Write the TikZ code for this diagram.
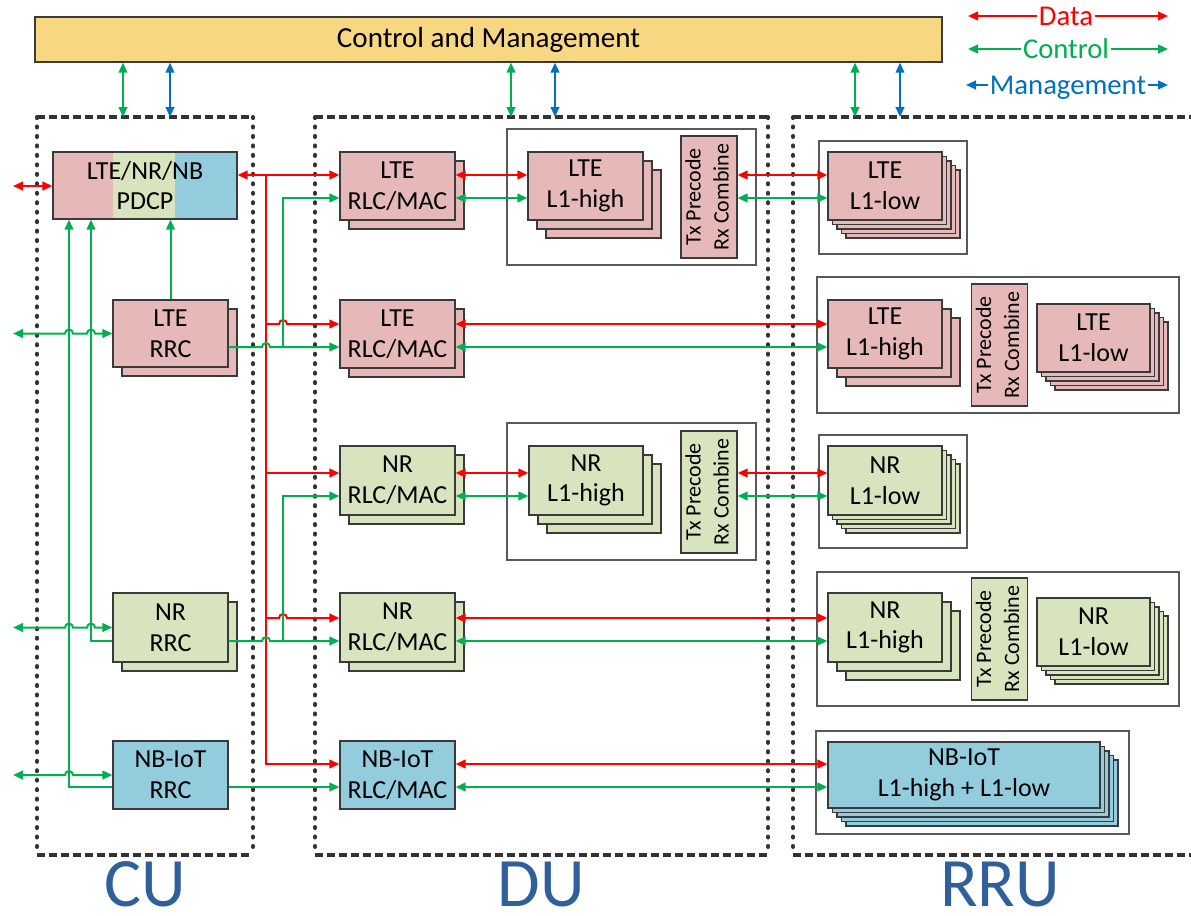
\documentclass[tikz,border=0pt]{standalone}
\usepackage{fontspec}
\usepackage{graphicx}
\setmainfont{Carlito}
\usetikzlibrary{arrows.meta,calc}

\definecolor{pinkc}{HTML}{E6B9B8}
\definecolor{greenc}{HTML}{D7E4BD}
\definecolor{bluec}{HTML}{93CDDD}
\definecolor{barc}{HTML}{F8D782}
\definecolor{datac}{HTML}{FF0000}
\definecolor{ctlc}{HTML}{00B050}
\definecolor{mgmtc}{HTML}{0070C0}
\definecolor{unitc}{HTML}{30609A}
\definecolor{edgec}{HTML}{3A3A3A}

\tikzset{
  blk/.style={draw=edgec, line width=0.9pt, inner sep=0pt, align=center,
    font=\fontsize{19.5}{23}\selectfont},
  layer/.style={draw=edgec, line width=0.9pt},
  frame/.style={draw=black!65, line width=0.9pt},
  data/.style={draw=datac, line width=1.5pt},
  ctl/.style={draw=ctlc, line width=1.5pt},
  mgmt/.style={draw=mgmtc, line width=1.5pt},
  hdash/.style={draw=black!80, line width=3pt, dash pattern=on 6pt off 3pt},
  vdash/.style={draw=black!80, line width=3pt, line cap=round, dash pattern=on 0.8pt off 6.3pt},
  unit/.style={text=unitc, font=\fontsize{52}{58}\selectfont, inner sep=0pt},
  legtxt/.style={font=\fontsize{21.5}{25}\selectfont, inner sep=1pt, text height=13.5pt, text depth=0pt},
  txbox/.style={blk, minimum width=42pt, minimum height=91.5pt},
}

% stacked block: name, fill, left, top, width, height, extra layers, step, text
\newcommand\deck[9]{%
  \foreach \k in {#7,...,1}{%
    \draw[layer,fill=#2] ({#3+\k*#8},{#4+\k*#8}) rectangle ++(#5,#6);}
  \node[blk,fill=#2,minimum width={#5*0.75pt},minimum height={#6*0.75pt}]
    (#1) at ({#3+#5/2},{#4+#6/2}) {#9};
}
\newcommand\txlabel{\rotatebox{90}{\fontsize{16.5}{21}\selectfont
  \begin{tabular}{@{}c@{}}Tx Precode\\Rx Combine\end{tabular}}}

\begin{document}
\begin{tikzpicture}[x=0.75pt, y=-0.75pt, >={Triangle[length=7.5pt,width=6.5pt]}]
\useasboundingbox (0,0) rectangle (1191,915);
\fill[white] (0,0) rectangle (1191,915);

% ---------- unit frames ----------
\draw[hdash] (37,117) -- (253,117) (37,855) -- (253,855);
\draw[vdash] (37,117) -- (37,855) (253,117) -- (253,855);
\draw[hdash] (315,117) -- (768,117) (315,855) -- (768,855);
\draw[vdash] (315,117) -- (315,855) (768,117) -- (768,855);
\draw[hdash] (793,117) -- (1191,117) (793,855) -- (1191,855);
\draw[vdash] (793,117) -- (793,855);

\node[unit] (cu) at (145,884) {CU};
\node[unit] (du) at (541,884) {DU};
\node[unit] (rru) at (1000,884) {RRU};

% ---------- control and management bar ----------
\node[draw=edgec, line width=1pt, fill=barc, minimum width=680.25pt, minimum height=33.75pt,
  inner sep=0pt, font=\fontsize{21.8}{25}\selectfont] (bar) at (488.5,39.5) {Control and Management};

\coordinate (cuA) at (123,117); \coordinate (cuB) at (170,117);
\coordinate (duA) at (511,117); \coordinate (duB) at (555,117);
\coordinate (ruA) at (855,117); \coordinate (ruB) at (900,117);
\draw[ctl,<->] (bar.south -| cuA) -- (cuA);
\draw[mgmt,<->] (bar.south -| cuB) -- (cuB);
\draw[ctl,<->] (bar.south -| duA) -- (duA);
\draw[mgmt,<->] (bar.south -| duB) -- (duB);
\draw[ctl,<->] (bar.south -| ruA) -- (ruA);
\draw[mgmt,<->] (bar.south -| ruB) -- (ruB);

% ---------- legend ----------
\node[legtxt,text=datac] (ldata) at (1066,16) {Data};
\node[legtxt,text=ctlc] (lctl) at (1066,49) {Control};
\node[legtxt,text=mgmtc] (lmgmt) at (1068,85) {Management};
\coordinate (lda) at (968,16); \coordinate (ldb) at (1168,16);
\coordinate (lca) at (968,49); \coordinate (lcb) at (1168,49);
\coordinate (lma) at (966,85); \coordinate (lmb) at (1168,85);
\draw[data,->] (ldata.west) -- (lda);
\draw[data,->] (ldata.east) -- (ldb);
\draw[ctl,->] (lctl.west) -- (lca);
\draw[ctl,->] (lctl.east) -- (lcb);
\draw[mgmt,->] (lmgmt.west) -- (lma);
\draw[mgmt,->] (lmgmt.east) -- (lmb);

% ---------- CU ----------
\fill[pinkc] (53,152) rectangle (113,219);
\fill[greenc] (113,152) rectangle (175,219);
\fill[bluec] (175,152) rectangle (237,219);
\node[blk, minimum width=138pt, minimum height=50.25pt] (pdcp) at (145,185.5) {LTE/NR/NB\\PDCP};

\deck{lterrc}{pinkc}{113}{300}{115}{67}{1}{9}{LTE\\RRC}
\deck{nrrrc}{greenc}{113}{593}{115}{69}{1}{9}{NR\\RRC}
\node[blk, fill=bluec, minimum width=86.25pt, minimum height=51pt] (nbrrc) at (170.5,775) {NB-IoT\\RRC};

% ---------- DU ----------
\deck{lterlc1}{pinkc}{340}{152}{115}{68}{1}{9}{LTE\\RLC/MAC}
\deck{lterlc2}{pinkc}{340}{300}{115}{68}{1}{9}{LTE\\RLC/MAC}
\deck{nrrlc3}{greenc}{340}{446}{115}{69}{1}{9}{NR\\RLC/MAC}
\deck{nrrlc4}{greenc}{340}{593}{115}{69}{1}{9}{NR\\RLC/MAC}
\node[blk, fill=bluec, minimum width=86.25pt, minimum height=51pt] (nbrlc) at (397.5,775) {NB-IoT\\RLC/MAC};

\draw[frame] (507,129) rectangle (756,265);
\deck{lhi1}{pinkc}{528}{152}{115}{68}{2}{9}{LTE\\L1-high}
\node[txbox, fill=pinkc] (tx1) at (709,197) {\txlabel};

\draw[frame] (507,423) rectangle (756,560);
\deck{nhi3}{greenc}{529}{446}{114}{69}{2}{9}{NR\\L1-high}
\node[txbox, fill=greenc] (tx3) at (709,492) {\txlabel};

% ---------- RRU ----------
\draw[frame] (819,141) rectangle (967,254);
\deck{llow1}{pinkc}{828}{152}{114}{68}{4}{4.5}{LTE\\L1-low}

\draw[frame] (817,277) rectangle (1179,413);
\deck{rlhi2}{pinkc}{828}{300}{114}{68}{2}{9}{LTE\\L1-high}
\node[txbox, fill=pinkc] (tx2) at (999.5,345) {\txlabel};
\deck{llow2}{pinkc}{1037}{304}{113}{68}{4}{4.5}{LTE\\L1-low}

\draw[frame] (819,435) rectangle (967,548);
\deck{nlow3}{greenc}{828}{446}{114}{69}{4}{4.5}{NR\\L1-low}

\draw[frame] (817,572) rectangle (1179,706);
\deck{rnhi4}{greenc}{828}{593}{114}{69}{2}{9}{NR\\L1-high}
\node[txbox, fill=greenc] (tx4) at (999.5,639) {\txlabel};
\deck{nlow4}{greenc}{1037}{598}{113}{68}{4}{4.5}{NR\\L1-low}

\draw[frame] (816,731) rectangle (1129,834);
\deck{nbl}{bluec}{828}{742}{272}{66}{4}{4.5}{NB-IoT\\L1-high + L1-low}

% ---------- junction points ----------
\coordinate (r1) at (266,175); \coordinate (r2) at (266,324);
\coordinate (r3) at (266,473); \coordinate (r4) at (266,618);
\coordinate (r5) at (266,764);
\coordinate (g1) at (283,198); \coordinate (g2) at (283,347);
\coordinate (g3) at (283,496); \coordinate (g4) at (283,641);
\coordinate (k1) at (69,787);  \coordinate (k2) at (91,641);
\coordinate (e1) at (13,333.5); \coordinate (e2) at (13,627.5);
\coordinate (e3) at (13,775);  \coordinate (e0) at (13,186);

% ---------- CU links ----------
\draw[data,<->] (e0) -- (pdcp.west |- e0);
\draw[ctl,->] (lterrc.north) -- (lterrc.north |- pdcp.south);
\draw[ctl,->] (nrrrc.west |- k2) -- (k2) -- (k2 |- pdcp.south);
\draw[ctl,->] (nbrrc.west |- k1) -- (k1) -- (k1 |- pdcp.south);
\draw[ctl,<->] (e1) -- ($(k1 |- e1)+(-4,0)$) arc[start angle=180,end angle=0,radius=3pt]
  -- ($(k2 |- e1)+(-4,0)$) arc[start angle=180,end angle=0,radius=3pt] -- (lterrc.west);
\draw[ctl,<->] (e2) -- ($(k1 |- e2)+(-4,0)$) arc[start angle=180,end angle=0,radius=3pt]
  -- ($(k2 |- e2)+(-4,0)$) arc[start angle=180,end angle=0,radius=3pt] -- (nrrrc.west);
\draw[ctl,<->] (e3) -- ($(k1 |- e3)+(-4,0)$) arc[start angle=180,end angle=0,radius=3pt] -- (nbrrc.west);

% ---------- CU to DU ----------
\draw[data,<->] (pdcp.east |- r1) -- (lterlc1.west |- r1);
\draw[data,->] (r1) -- (r5) -- (nbrlc.west |- r5);
\draw[data,->] (r2) -- ($(g2 |- r2)+(-4,0)$) arc[start angle=180,end angle=0,radius=3pt] -- (lterlc2.west |- r2);
\draw[data,->] (r3) -- (nrrlc3.west |- r3);
\draw[data,->] (r4) -- ($(g4 |- r4)+(-4,0)$) arc[start angle=180,end angle=0,radius=3pt] -- (nrrlc4.west |- r4);

\draw[ctl,->] (lterrc.east |- g2) -- ($(r2 |- g2)+(-4,0)$) arc[start angle=180,end angle=0,radius=3pt] -- (lterlc2.west |- g2);
\draw[ctl,->] (g2) -- (g1) -- (lterlc1.west |- g1);
\draw[ctl,->] (nrrrc.east |- g4) -- ($(r4 |- g4)+(-4,0)$) arc[start angle=180,end angle=0,radius=3pt] -- (nrrlc4.west |- g4);
\draw[ctl,->] (g4) -- (g3) -- (nrrlc3.west |- g3);
\draw[ctl,->] (nbrrc.east |- k1) -- (nbrlc.west |- k1);

% ---------- DU internal and DU to RRU ----------
\draw[data,<->] (lterlc1.east |- r1) -- (lhi1.west |- r1);
\draw[ctl,<->] (lterlc1.east |- g1) -- (lhi1.west |- g1);
\draw[data,<->] (tx1.east |- r1) -- (llow1.west |- r1);
\draw[ctl,<->] (tx1.east |- g1) -- (llow1.west |- g1);

\draw[data,<->] (lterlc2.east |- r2) -- (rlhi2.west |- r2);
\draw[ctl,<->] (lterlc2.east |- g2) -- (rlhi2.west |- g2);

\draw[data,<->] (nrrlc3.east |- r3) -- (nhi3.west |- r3);
\draw[ctl,<->] (nrrlc3.east |- g3) -- (nhi3.west |- g3);
\draw[data,<->] (tx3.east |- r3) -- (nlow3.west |- r3);
\draw[ctl,<->] (tx3.east |- g3) -- (nlow3.west |- g3);

\draw[data,<->] (nrrlc4.east |- r4) -- (rnhi4.west |- r4);
\draw[ctl,<->] (nrrlc4.east |- g4) -- (rnhi4.west |- g4);

\draw[data,<->] (nbrlc.east |- r5) -- (nbl.west |- r5);
\draw[ctl,<->] (nbrlc.east |- k1) -- (nbl.west |- k1);
\end{tikzpicture}
\end{document}
